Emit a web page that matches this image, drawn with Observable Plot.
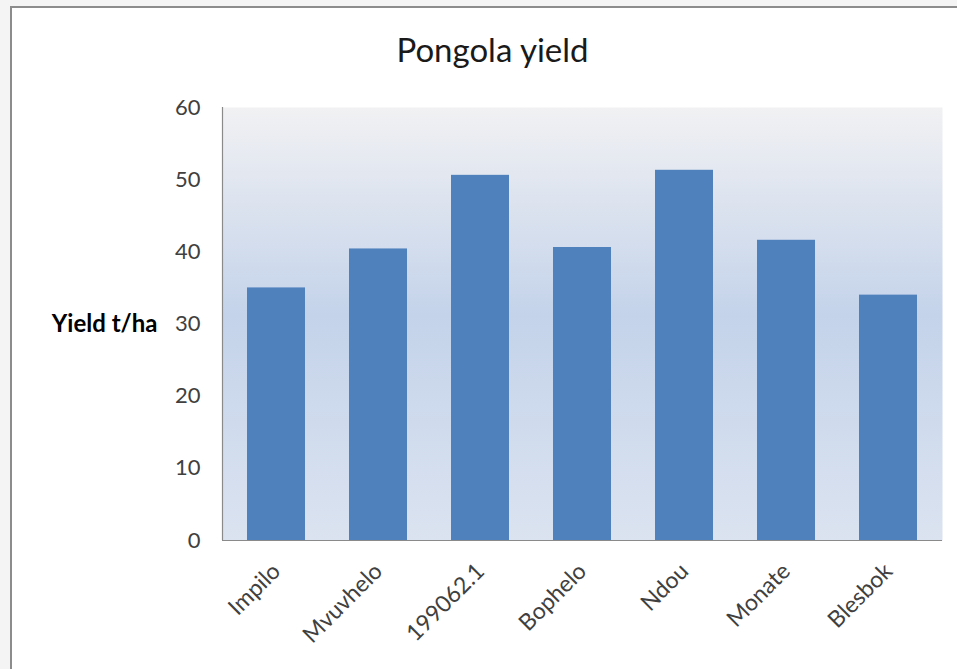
<!DOCTYPE html>
<html>
<head>
<meta charset="utf-8">
<script src="https://cdn.jsdelivr.net/npm/d3@7"></script>
<script src="https://cdn.jsdelivr.net/npm/@observablehq/plot@0.6"></script>
<style>
  html, body { margin: 0; padding: 0; background: #f4f4f4; overflow: hidden; }
  body { width: 957px; height: 669px; position: relative; font-family: Lato, "Open Sans", sans-serif; }
  #panel {
    position: absolute; left: 10px; top: 6px; width: 947px; height: 663px;
    background: #ffffff; border-top: 2px solid #8c8c8c; border-left: 2px solid #8c8c8c;
    box-sizing: border-box;
  }
  #title {
    position: absolute; left: 0; top: 29px; width: 985px; text-align: center;
    font-family: Lato, sans-serif; font-size: 33px; color: #1a1a1a;
  }
  #chart { position: absolute; left: 0; top: 0; }
</style>
</head>
<body>
<div id="panel"></div>
<div id="title">Pongola yield</div>
<div id="chart"></div>
<script>
// Sugar-cane variety trial at Pongola: yield per variety
const varieties = ["Impilo", "Mvuvhelo", "199062.1", "Bophelo", "Ndou", "Monate", "Blesbok"];
const yields = [35.0, 40.4, 50.6, 40.6, 51.3, 41.6, 34.0];
const yTicks = [0, 10, 20, 30, 40, 50, 60];
const yLabel = "Yield t/ha";

const rows = varieties.map((v, i) => ({variety: v, yield: yields[i]}));

const plot = Plot.plot({
  width: 957,
  height: 669,
  marginLeft: 222,
  marginRight: 15,
  marginTop: 107,
  marginBottom: 129,
  style: {background: "transparent", fontFamily: "Lato, sans-serif", color: "#404040"},
  x: {domain: varieties, paddingInner: 0.43, paddingOuter: 0.215, label: null},
  y: {domain: [0, 60], label: null},
  marks: [
    Plot.frame({fill: "url(#plotBg)", stroke: "none"}),
    Plot.barY(rows, {x: "variety", y: "yield", fill: "#4f81bd"}),
    Plot.ruleY([0], {stroke: "#8a8a8a", strokeWidth: 1.2}),
    Plot.axisY({
      ticks: yTicks, tickSize: 0, tickPadding: 22, fontSize: 22,
      fill: "#404040", label: null, tickFormat: d => String(d)
    }),
    Plot.axisX({
      tickSize: 0, tickRotate: -45, tickPadding: 27, dx: 0, fontSize: 23,
      fill: "#404040", label: null
    }),
    Plot.text([yLabel], {
      text: d => d, frameAnchor: "left", textAnchor: "end", dx: -65,
      fontSize: 24, fontWeight: "bold", fill: "#000000"
    })
  ]
});

// Soft vertical shading behind the bars
const svg = d3.select(plot);
const defs = svg.insert("defs", ":first-child");
const grad = defs.append("linearGradient")
  .attr("id", "plotBg").attr("x1", 0).attr("y1", 0).attr("x2", 0).attr("y2", 1);
grad.append("stop").attr("offset", "0%").attr("stop-color", "#f1f1f3");
grad.append("stop").attr("offset", "48%").attr("stop-color", "#c4d3ea");
grad.append("stop").attr("offset", "100%").attr("stop-color", "#dbe3f0");

// Left axis line
svg.append("line")
  .attr("x1", 222.5).attr("x2", 222.5).attr("y1", 107).attr("y2", 540)
  .attr("stroke", "#8a8a8a").attr("stroke-width", 1.2);

document.getElementById("chart").appendChild(plot);
</script>
</body>
</html>
